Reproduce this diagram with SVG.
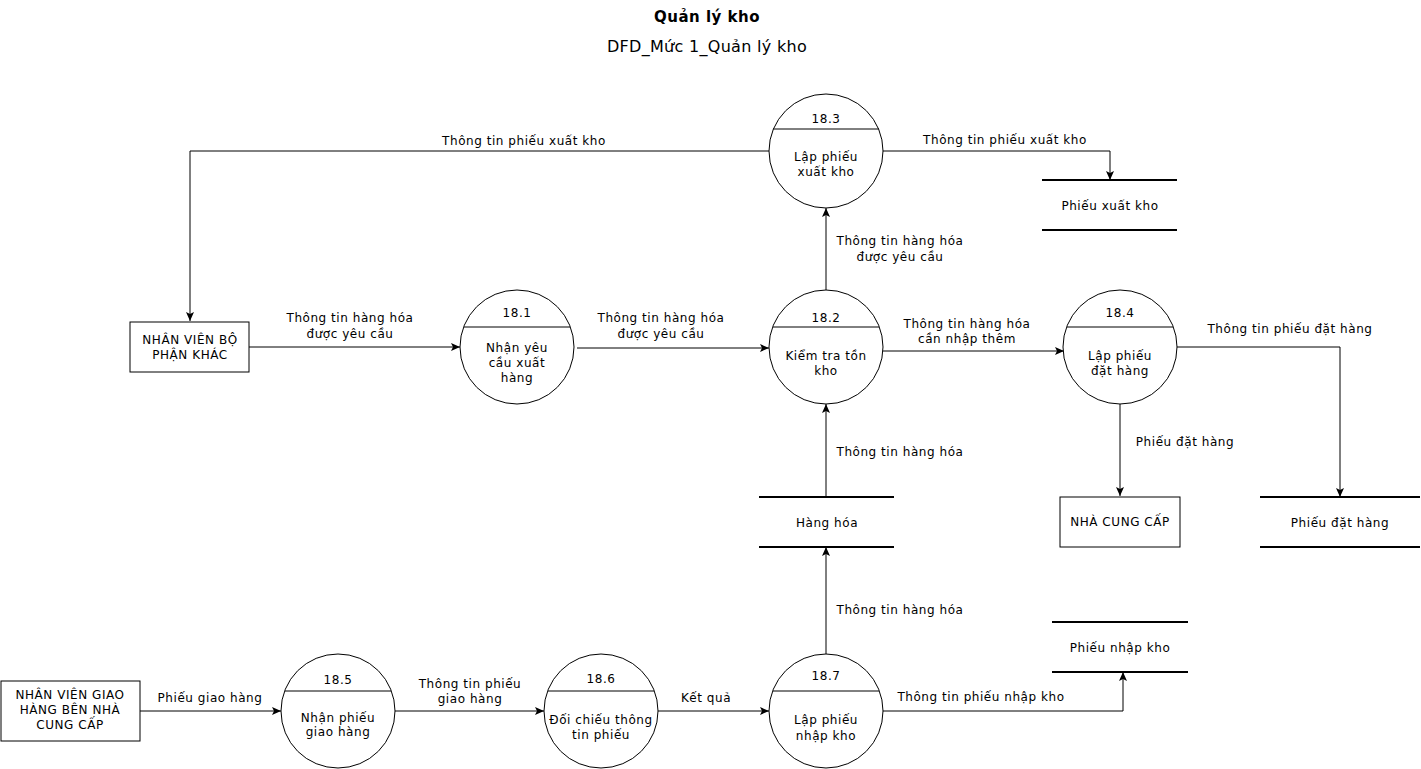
<svg xmlns="http://www.w3.org/2000/svg" width="1421" height="769" viewBox="0 0 1421 769">
<style>
text{font-family:"DejaVu Sans",Verdana,sans-serif;font-size:12px;letter-spacing:0.55px;fill:#000;text-anchor:middle}
.title{font-size:15px;font-weight:bold;letter-spacing:0.5px}
.sub{font-size:16px;letter-spacing:0.3px}
.proc{fill:#fff;stroke:#000;stroke-width:1}
.ent{fill:#fff;stroke:#000;stroke-width:1}
.store{stroke:#000;stroke-width:2}
.edge{fill:none;stroke:#000;stroke-width:1;marker-end:url(#arr)}
</style>
<defs>
<marker id="arr" viewBox="0 0 10 10" refX="9" refY="5" markerWidth="10" markerHeight="10" markerUnits="userSpaceOnUse" orient="auto">
<path d="M0,1 L9,5 L0,9 L2,5 Z" fill="#000"/>
</marker>
</defs>
<rect width="1421" height="769" fill="#fff"/>
<text class="title" x="707" y="22">Quản lý kho</text>
<text class="sub" x="707" y="52">DFD_Mức 1_Quản lý kho</text>

<g id="connectors">
<polyline class="edge" points="769,151 190,151 190,321"/>
<polyline class="edge" points="883,151 1110,151 1110,180"/>
<polyline class="edge" points="249,347 460,347"/>
<polyline class="edge" points="577,348 769,348"/>
<polyline class="edge" points="826,290 826,208"/>
<polyline class="edge" points="883,351 1064,351"/>
<polyline class="edge" points="1177,347 1340,347 1340,497"/>
<polyline class="edge" points="1120,404 1120,496"/>
<polyline class="edge" points="826,497 826,404"/>
<polyline class="edge" points="826,654 826,547"/>
<polyline class="edge" points="140,711 281,711"/>
<polyline class="edge" points="395,711 544,711"/>
<polyline class="edge" points="658,711 769,711"/>
<polyline class="edge" points="883,711 1123,711 1123,672"/>
<text x="524" y="145">Thông tin phiếu xuất kho</text>
<text x="1005" y="144">Thông tin phiếu xuất kho</text>
<text x="350" y="322">Thông tin hàng hóa</text>
<text x="350" y="338">được yêu cầu</text>
<text x="661" y="322">Thông tin hàng hóa</text>
<text x="661" y="338">được yêu cầu</text>
<text x="900" y="245">Thông tin hàng hóa</text>
<text x="900" y="261">được yêu cầu</text>
<text x="967" y="328">Thông tin hàng hóa</text>
<text x="967" y="343">cần nhập thêm</text>
<text x="1290" y="333">Thông tin phiếu đặt hàng</text>
<text x="1185" y="446">Phiếu đặt hàng</text>
<text x="900" y="456">Thông tin hàng hóa</text>
<text x="900" y="614">Thông tin hàng hóa</text>
<text x="210" y="702">Phiếu giao hàng</text>
<text x="470" y="688">Thông tin phiếu</text>
<text x="470" y="703">giao hàng</text>
<text x="706" y="702">Kết quả</text>
<text x="981" y="701">Thông tin phiếu nhập kho</text>
</g>

<g id="p18_3">
<circle class="proc" cx="826" cy="151" r="57"/>
<line x1="773" y1="129" x2="879" y2="129" stroke="#000"/>
<text x="826" y="123">18.3</text>
<text x="826" y="161">Lập phiếu</text>
<text x="826" y="176">xuất kho</text>
</g>
<g id="p18_1">
<circle class="proc" cx="517" cy="347" r="57"/>
<line x1="464" y1="327" x2="570" y2="327" stroke="#000"/>
<text x="517" y="317">18.1</text>
<text x="517" y="352">Nhận yêu</text>
<text x="517" y="367">cầu xuất</text>
<text x="517" y="382">hàng</text>
</g>
<g id="p18_2">
<circle class="proc" cx="826" cy="347" r="57"/>
<line x1="773" y1="327" x2="879" y2="327" stroke="#000"/>
<text x="826" y="322">18.2</text>
<text x="826" y="360">Kiểm tra tồn</text>
<text x="826" y="375">kho</text>
</g>
<g id="p18_4">
<circle class="proc" cx="1120" cy="347" r="57"/>
<line x1="1067" y1="327" x2="1173" y2="327" stroke="#000"/>
<text x="1120" y="317">18.4</text>
<text x="1120" y="360">Lập phiếu</text>
<text x="1120" y="375">đặt hàng</text>
</g>
<g id="p18_5">
<circle class="proc" cx="338" cy="711" r="57"/>
<line x1="285" y1="691" x2="391" y2="691" stroke="#000"/>
<text x="338" y="684">18.5</text>
<text x="338" y="722">Nhận phiếu</text>
<text x="338" y="736">giao hàng</text>
</g>
<g id="p18_6">
<circle class="proc" cx="601" cy="711" r="57"/>
<line x1="548" y1="691" x2="654" y2="691" stroke="#000"/>
<text x="601" y="683">18.6</text>
<text x="601" y="724">Đối chiếu thông</text>
<text x="601" y="739">tin phiếu</text>
</g>
<g id="p18_7">
<circle class="proc" cx="826" cy="711" r="57"/>
<line x1="773" y1="691" x2="879" y2="691" stroke="#000"/>
<text x="826" y="680">18.7</text>
<text x="826" y="724">Lập phiếu</text>
<text x="826" y="740">nhập kho</text>
</g>

<g id="e_nvbp">
<rect class="ent" x="130" y="322" width="119" height="50"/>
<text x="190" y="344">NHÂN VIÊN BỘ</text>
<text x="190" y="359">PHẬN KHÁC</text>
</g>
<g id="e_ncc">
<rect class="ent" x="1060" y="497" width="120" height="50"/>
<text x="1120" y="526">NHÀ CUNG CẤP</text>
</g>
<g id="e_nvgh">
<rect class="ent" x="1" y="681" width="139" height="60"/>
<text x="70" y="699">NHÂN VIÊN GIAO</text>
<text x="70" y="714">HÀNG BÊN NHÀ</text>
<text x="70" y="729">CUNG CẤP</text>
</g>

<g id="s_pxk">
<line class="store" x1="1042" y1="180" x2="1177" y2="180"/>
<line class="store" x1="1042" y1="230" x2="1177" y2="230"/>
<text x="1110" y="210">Phiếu xuất kho</text>
</g>
<g id="s_hh">
<line class="store" x1="759" y1="497" x2="894" y2="497"/>
<line class="store" x1="759" y1="547" x2="894" y2="547"/>
<text x="827" y="527">Hàng hóa</text>
</g>
<g id="s_pdh">
<line class="store" x1="1260" y1="497" x2="1420" y2="497"/>
<line class="store" x1="1260" y1="547" x2="1420" y2="547"/>
<text x="1340" y="527">Phiếu đặt hàng</text>
</g>
<g id="s_pnk">
<line class="store" x1="1052" y1="622" x2="1188" y2="622"/>
<line class="store" x1="1052" y1="672" x2="1188" y2="672"/>
<text x="1120" y="652">Phiếu nhập kho</text>
</g>
</svg>
